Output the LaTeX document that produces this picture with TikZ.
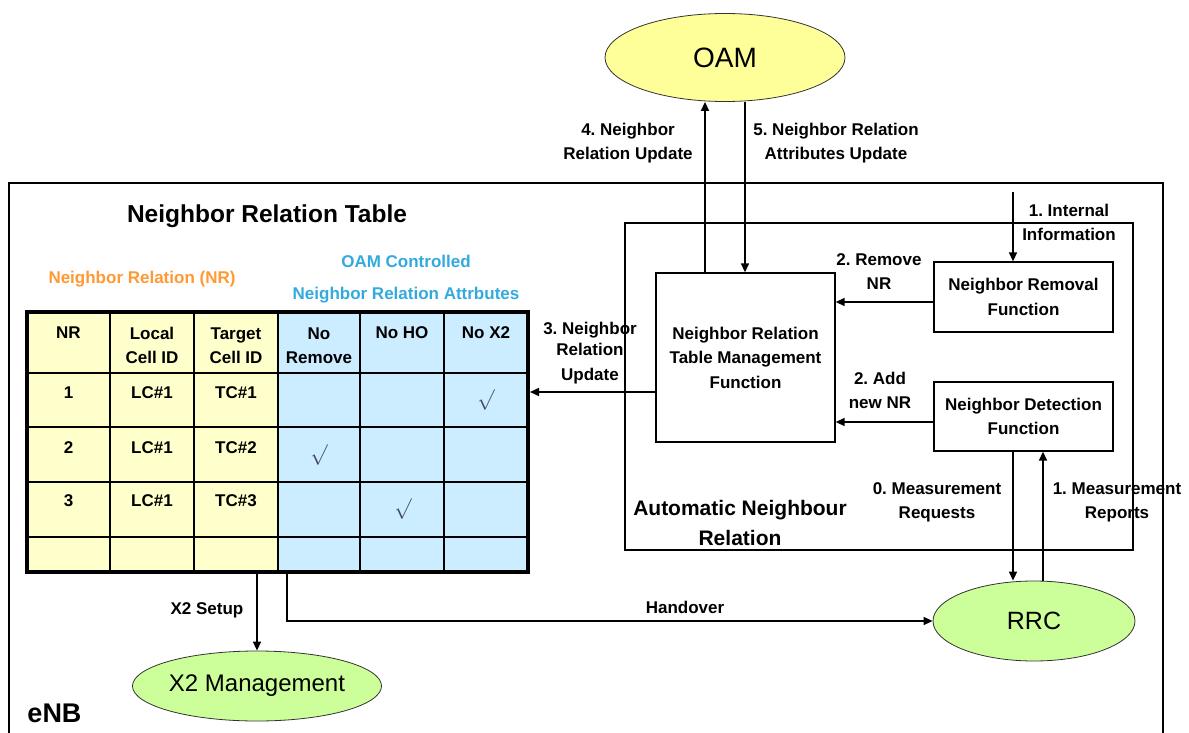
\documentclass[tikz,border=0pt]{standalone}
\usepackage{fontspec}
\setmainfont{Liberation Sans}
\usetikzlibrary{shapes.geometric,arrows.meta}
\definecolor{oamY}{HTML}{FFFF99}
\definecolor{bubG}{HTML}{CCFF99}
\definecolor{tabY}{HTML}{FFFFCC}
\definecolor{tabB}{HTML}{CCECFF}
\definecolor{nrOrange}{HTML}{FF9933}
\definecolor{oamCyan}{HTML}{33AADD}
\definecolor{chkc}{RGB}{60,70,100}
\tikzset{
 lbl/.style={font=\bfseries\fontsize{17}{24}\selectfont, align=center, inner sep=0pt},
 box/.style={draw, line width=1.3pt, inner sep=0pt, font=\bfseries\fontsize{17}{24.5}\selectfont, align=center},
 arr/.style={line width=1.5pt, -{Triangle[length=9pt,width=8pt]}},
 bubble/.style={ellipse, draw=black!80, line width=0.8pt, inner sep=0pt},
 gridline/.style={line width=1.3pt},
 chk/.style={text=chkc, inner sep=0pt, font=\fontsize{21}{21}\selectfont},
}
\frenchspacing
\begin{document}
\frenchspacing
\begin{tikzpicture}[x=1pt,y=-1pt]
\useasboundingbox (0,0) rectangle (1189,733);
% eNB frame
\draw[line width=1.3pt] (9,733) -- (9,183) -- (1163,183) -- (1163,733);
\node[font=\bfseries\fontsize{27}{27}\selectfont, inner sep=0pt] (enb) at (54.5,713) {eNB};
% ellipses
\node[bubble, fill=oamY, minimum width=240pt, minimum height=88pt, font=\fontsize{28}{28}\selectfont] (oam) at (725,57.5) {OAM};
\node[bubble, fill=bubG, minimum width=202pt, minimum height=80pt, font=\fontsize{25}{25}\selectfont] (rrc) at (1034,621) {RRC};
\node[bubble, fill=bubG, minimum width=240pt, minimum height=70pt, font=\fontsize{24}{24}\selectfont] (x2) at (257,686) {X2 Management};
% ANR area
\node[draw, line width=1.3pt, minimum width=508pt, minimum height=327pt, inner sep=0pt] (anr) at (879,386.5) {};
\node[font=\bfseries\fontsize{21}{30}\selectfont, align=center, inner sep=0pt] (anrt) at (740,523) {Automatic Neighbour\\Relation};
\node[box, minimum width=179pt, minimum height=169pt] (nrtm) at (745.5,357.5) {Neighbor Relation\\Table Management\\Function};
\node[box, minimum width=179pt, minimum height=70pt] (rem) at (1023.5,297) {Neighbor Removal\\Function};
\node[box, minimum width=179pt, minimum height=69pt] (det) at (1023.5,416.5) {Neighbor Detection\\Function};
% table
\node[font=\bfseries\fontsize{24.5}{24.5}\selectfont, inner sep=0pt] (ttitle) at (267,216) {Neighbor Relation Table};
\node[lbl, text=nrOrange] (nrlab) at (142,279) {Neighbor Relation (NR)};
\node[lbl, text=oamCyan, font=\bfseries\fontsize{17}{32}\selectfont] (oamlab) at (406,279) {OAM Controlled\\Neighbor Relation Attrbutes};
\fill[tabY] (27,312) rectangle (278,572);
\fill[tabB] (278,312) rectangle (528,572);
\foreach \x in {110,194,278,360,444} \draw[gridline] (\x,312) -- (\x,572);
\foreach \y in {373,427,482,537} \draw[gridline] (27,\y) -- (528,\y);
\node[draw, line width=4pt, minimum width=501pt, minimum height=260pt, inner sep=0pt] (tbl) at (277.5,442) {};
\node[lbl] (hnr) at (68.5,333) {NR};
\node[lbl] (hlc) at (152,345.5) {Local\\Cell ID};
\node[lbl] (htc) at (236,345.5) {Target\\Cell ID};
\node[lbl] (hnrm) at (319,345.5) {No\\Remove};
\node[lbl] (hnho) at (402,333) {No HO};
\node[lbl] (hnx2) at (486,333) {No X2};
\node[lbl] (r1a) at (68.5,393) {1};
\node[lbl] (r1b) at (152,393) {LC\#1};
\node[lbl] (r1c) at (236,393) {TC\#1};
\node[lbl] (r2a) at (68.5,448) {2};
\node[lbl] (r2b) at (152,448) {LC\#1};
\node[lbl] (r2c) at (236,448) {TC\#2};
\node[lbl] (r3a) at (68.5,501) {3};
\node[lbl] (r3b) at (152,501) {LC\#1};
\node[lbl] (r3c) at (236,501) {TC\#3};
\node[chk] (c1) at (486,400) {$\surd$};
\node[chk] (c2) at (319,455) {$\surd$};
\node[chk] (c3) at (403,509) {$\surd$};
% helper coordinates
\coordinate (y392) at (0,392);
\coordinate (y302) at (0,302);
\coordinate (y422) at (0,422);
\coordinate (a4) at (705,0);
\coordinate (a5) at (745,0);
\coordinate (m0) at (1013,0);
\coordinate (m1) at (1043,0);
\coordinate (hx) at (287,0);
\coordinate (ii) at (1013,192);
% connectors
\draw[arr] (nrtm.north -| a4) -- (oam.south -| a4);
\draw[arr] (oam.south -| a5) -- (nrtm.north -| a5);
\draw[arr] (ii) -- (rem.north -| ii);
\draw[arr] (rem.west |- y302) -- (nrtm.east |- y302);
\draw[arr] (det.west |- y422) -- (nrtm.east |- y422);
\draw[arr] (nrtm.west |- y392) -- (tbl.east |- y392);
\draw[arr] (det.south -| m0) -- (rrc.north -| m0);
\draw[arr] (rrc.north -| m1) -- (det.south -| m1);
\draw[arr] (tbl.south -| hx) |- (rrc.west);
\draw[arr] (tbl.south -| x2.north) -- (x2.north);
% labels
\node[lbl] (l4) at (628,143) {4. Neighbor\\Relation Update};
\node[lbl] (l5) at (836,143) {5. Neighbor Relation\\Attributes Update};
\node[lbl] (l1i) at (1069,222) {1. Internal\\Information};
\node[lbl] (l2r) at (879,272) {2. Remove\\NR};
\node[lbl] (l2a) at (880,390) {2. Add\\new NR};
\node[lbl] (l3) at (590,353) {3. Neighbor\\[-3pt]Relation\\[1pt]Update};
\node[lbl] (l0m) at (937,502) {0. Measurement\\Requests};
\node[lbl] (l1m) at (1117,502) {1. Measurement\\Reports};
\node[lbl] (lho) at (685,607) {Handover};
\node[lbl] (lx2) at (207,610) {X2 Setup};
\end{tikzpicture}
\end{document}
